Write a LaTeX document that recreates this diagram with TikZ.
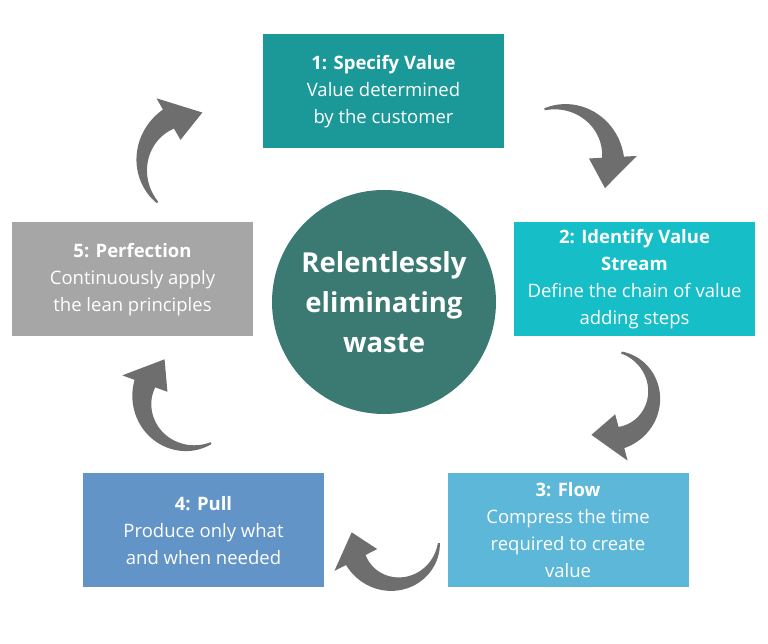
\documentclass[tikz,border=0pt]{standalone}
\usepackage{fontspec}
\setmainfont{Open Sans}
\usetikzlibrary{positioning}

\definecolor{specifycol}{RGB}{27,152,152}
\definecolor{streamcol}{RGB}{22,190,200}
\definecolor{flowcol}{RGB}{92,183,216}
\definecolor{pullcol}{RGB}{98,148,200}
\definecolor{perfectcol}{RGB}{166,166,166}
\definecolor{wastecol}{RGB}{58,122,114}
\definecolor{arrowcol}{RGB}{110,110,110}

% curved fat arrow: centre x, centre y, radius, tail angle, head base angle, tip angle
\newcommand{\turnarrow}[6]{%
  \fill[arrowcol]
    plot[domain=0:1, samples=40, variable=\t]
      ({#1+(#3+1+10*\t)*cos(#4+(#5-#4)*\t)}, {#2+(#3+1+10*\t)*sin(#4+(#5-#4)*\t)})
    -- ({#1+(#3+24)*cos(#5)}, {#2+(#3+24)*sin(#5)})
    -- ({#1+#3*cos(#6)}, {#2+#3*sin(#6)})
    -- ({#1+(#3-24)*cos(#5)}, {#2+(#3-24)*sin(#5)})
    -- plot[domain=0:1, samples=40, variable=\t]
      ({#1+(#3-1-10*(1-\t))*cos(#4+(#5-#4)*(1-\t))}, {#2+(#3-1-10*(1-\t))*sin(#4+(#5-#4)*(1-\t))})
    -- cycle;
}

\tikzset{
  stepbox/.style={rectangle, minimum width=241pt, minimum height=114pt, inner sep=0pt,
    text=white, align=center, font=\fontsize{18.5}{27}\selectfont},
  centrecircle/.style={circle, fill=wastecol, minimum size=224pt, inner sep=0pt,
    text=white, align=center, font=\fontsize{27.5}{40}\selectfont\bfseries}
}

\begin{document}
\begin{tikzpicture}[x=1pt, y=1pt]
  \useasboundingbox (0,0) rectangle (768,644);

  \node[centrecircle] (waste) at (384,342) {Relentlessly\\eliminating\\waste};

  \node[stepbox, fill=specifycol] (specify) at (383.5,552.5) {\textbf{1: Specify Value}\\Value determined\\by the customer};
  \node[stepbox, fill=streamcol] (stream) at (634.5,364.5) {\textbf{2: Identify Value}\\\textbf{Stream}\\Define the chain of value\\adding steps};
  \node[stepbox, fill=flowcol] (flow) at (568,113.5) {\textbf{3: Flow}\\Compress the time\\required to create\\value};
  \node[stepbox, fill=pullcol] (pull) at (203.5,113.5) {\textbf{4: Pull}\\Produce only what\\and when needed};
  \node[stepbox, fill=perfectcol] (perfect) at (132.5,364.5) {\textbf{5: Perfection}\\Continuously apply\\the lean principles};

  % arrows between the steps
  \turnarrow{195}{479}{53}{225}{120}{82}
  \turnarrow{560}{484}{53}{107}{3}{-32}
  \turnarrow{610}{249}{44}{75}{-75}{-115}
  \turnarrow{395}{104}{44}{-4}{-153}{-190}
  \turnarrow{190}{244}{48}{-64}{-200}{-238}
\end{tikzpicture}
\end{document}
